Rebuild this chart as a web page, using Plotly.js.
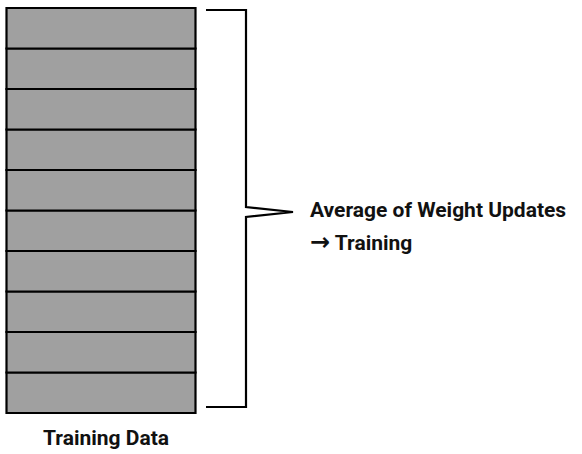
<!DOCTYPE html>
<html>
<head>
<meta charset="utf-8">
<script src="https://cdn.plot.ly/plotly-3.0.1.min.js"></script>
<style>html,body{margin:0;padding:0;background:#fff;}#chart{width:582px;height:454px;}</style>
</head>
<body>
<div id="chart"></div>
<script>
// Data
const batches = ['Batch 1','Batch 2','Batch 3','Batch 4','Batch 5','Batch 6','Batch 7','Batch 8','Batch 9','Batch 10'];
const batchSize = [1,1,1,1,1,1,1,1,1,1];
const stackLabel = 'Training Data';
const bracketLabel = 'Average of Weight Updates';
const arrowLabel = 'Training';

// cumulative base of each batch
const bases = [];
let acc = 0;
for (const v of batchSize) { bases.push(acc); acc += v; }

const W = 582, H = 454;
const px = x => x / W;
const py = y => 1 - y / H;

// y-axis: 0 at pixel 413, total at pixel 8
const yBottomPx = 413, yTopPx = 8;
const unit = (yBottomPx - yTopPx) / acc;
const yMin = -(H - yBottomPx) / unit;
const yMax = acc + yTopPx / unit;

const FONT = 'Roboto, "Liberation Sans", Arial, sans-serif';
const textFont = { family: FONT, size: 21, color: '#111', weight: 'bold' };

const trace = {
  type: 'bar',
  x: batches.map(() => 101),
  y: batchSize,
  base: bases,
  text: batches,
  hoverinfo: 'text',
  textposition: 'none',
  width: 189,
  marker: { color: '#a0a0a0', line: { color: '#000', width: 2.2 } },
  showlegend: false
};

const bracketPath =
  `M ${px(206)} ${py(10)} L ${px(246)} ${py(10)} L ${px(246)} ${py(207)} ` +
  `L ${px(293)} ${py(212)} L ${px(246)} ${py(217)} L ${px(246)} ${py(407)} L ${px(206)} ${py(407)}`;

const layout = {
  width: W, height: H,
  margin: { l: 0, r: 0, t: 0, b: 0 },
  paper_bgcolor: '#fff', plot_bgcolor: '#fff',
  barmode: 'overlay',
  xaxis: { range: [0, W], visible: false, fixedrange: true },
  yaxis: { range: [yMin, yMax], visible: false, fixedrange: true },
  shapes: [{
    type: 'path', xref: 'paper', yref: 'paper', path: bracketPath,
    line: { color: '#000', width: 2.2 }, fillcolor: 'rgba(0,0,0,0)'
  }],
  annotations: [
    { xref: 'paper', yref: 'paper', x: px(308), y: py(210), xanchor: 'left', yanchor: 'middle',
      text: bracketLabel, showarrow: false, font: textFont },
    { xref: 'paper', yref: 'paper', x: px(308), y: py(242), xanchor: 'left', yanchor: 'middle',
      text: '<span style="font-family:\'DejaVu Sans\';font-size:24px">\u2192</span> ' + arrowLabel,
      showarrow: false, font: textFont },
    { xref: 'paper', yref: 'paper', x: px(106), y: py(438), xanchor: 'center', yanchor: 'middle',
      text: stackLabel, showarrow: false, font: textFont }
  ]
};

Plotly.newPlot('chart', [trace], layout, { staticPlot: true, displayModeBar: false });
</script>
</body>
</html>
